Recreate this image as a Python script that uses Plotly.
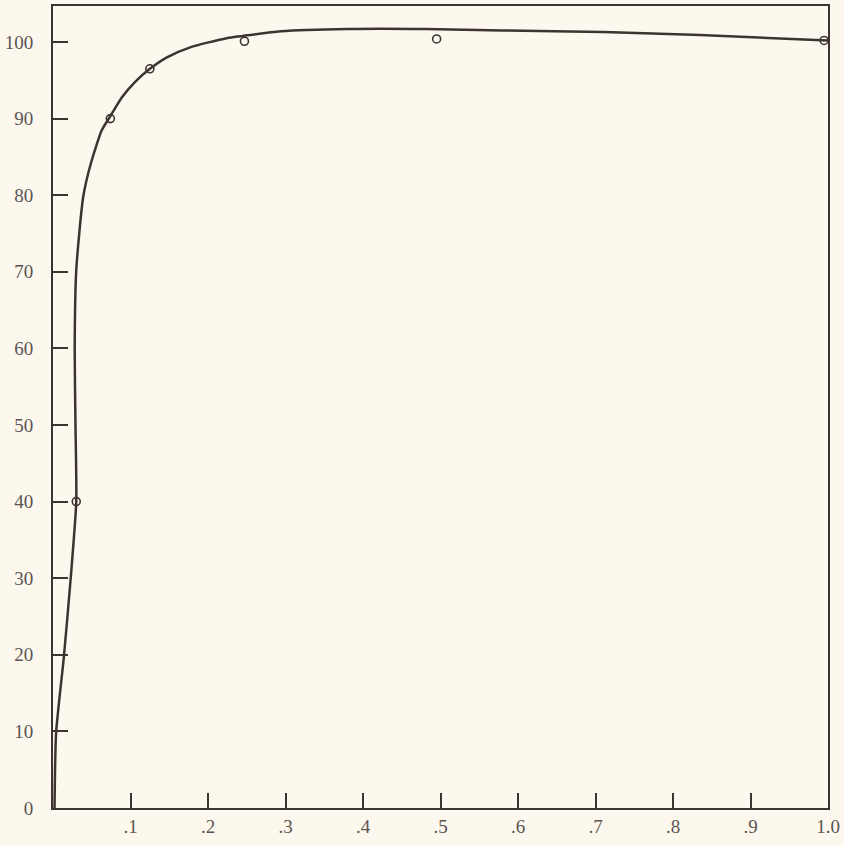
import plotly.graph_objects as go

# Observed data points (open circles)
point_x = [0.03, 0.074, 0.125, 0.247, 0.495, 0.995]
point_y = [40.0, 90.0, 96.5, 100.1, 100.4, 100.2]

# Hand-drawn fitted curve
curve_x = [0.002, 0.004, 0.014, 0.023, 0.030, 0.029, 0.028, 0.030, 0.039, 0.049,
           0.063, 0.072, 0.089, 0.106, 0.125, 0.147, 0.177, 0.224, 0.245, 0.294, 0.38,
           0.48, 0.58, 0.71, 0.835, 1.0]
curve_y = [0.0, 9.8, 19.7, 30.2, 40.0, 50.0, 60.0, 70.2, 79.8, 84.2,
           88.5, 90.0, 92.8, 94.8, 96.5, 98.0, 99.3, 100.5, 100.8, 101.4, 101.7,
           101.7, 101.5, 101.3, 100.9, 100.2]

x_tickvals = [0.1, 0.2, 0.3, 0.4, 0.5, 0.6, 0.7, 0.8, 0.9, 1.0]
x_ticktext = [".1", ".2", ".3", ".4", ".5", ".6", ".7", ".8", ".9", "1.0"]
y_tickvals = [0, 10, 20, 30, 40, 50, 60, 70, 80, 90, 100]
y_ticktext = ["0", "10", "20", "30", "40", "50", "60", "70", "80", "90", "100"]

ink = "#3b3431"
bg = "#fdf8ee"

fig = go.Figure()
fig.add_trace(go.Scatter(
    x=curve_x, y=curve_y, mode="lines",
    line=dict(color=ink, width=2.5, shape="spline", smoothing=0.6),
    hoverinfo="skip", showlegend=False))
fig.add_trace(go.Scatter(
    x=point_x, y=point_y, mode="markers",
    marker=dict(symbol="circle-open", size=8, color=ink, line=dict(width=1.6, color=ink)),
    showlegend=False, cliponaxis=False))

axis_common = dict(
    showgrid=False, zeroline=False, showline=True, linecolor=ink, linewidth=2,
    mirror=True, ticks="inside", ticklen=15, tickwidth=1.5, tickcolor=ink,
    tickfont=dict(family="Liberation Serif, DejaVu Serif, serif", size=19, color="#5a5452"),
)

fig.update_xaxes(range=[0, 1.0], tickmode="array", tickvals=x_tickvals,
                 ticktext=x_ticktext, **axis_common)
fig.update_yaxes(range=[0, 104.7], tickmode="array", tickvals=y_tickvals,
                 ticktext=y_ticktext, ticklabelstandoff=14, **axis_common)

fig.update_layout(
    width=844, height=846,
    margin=dict(l=53, r=16, t=6, b=38, autoexpand=False),
    paper_bgcolor=bg, plot_bgcolor=bg,
    showlegend=False,
)

fig.write_html("out.html", config={"displayModeBar": False},
               post_script="document.body.style.margin='0';document.body.style.background='%s';" % bg)
